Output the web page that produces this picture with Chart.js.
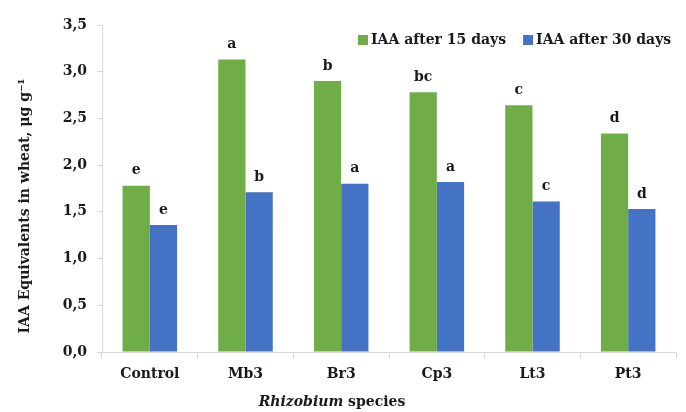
<!DOCTYPE html>
<html>
<head>
<meta charset="utf-8">
<script src="https://cdn.jsdelivr.net/npm/chart.js@4.4.1/dist/chart.umd.min.js"></script>
<style>
  html, body { margin: 0; padding: 0; background: #fff; }
</style>
</head>
<body>
<canvas id="iaa-chart" width="686" height="412"></canvas>
<script>
// Données
const categories = ["Control", "Mb3", "Br3", "Cp3", "Lt3", "Pt3"];
const iaa15 = [1.78, 3.13, 2.90, 2.78, 2.64, 2.34];
const iaa30 = [1.36, 1.71, 1.80, 1.82, 1.61, 1.53];
const letters15 = ["e", "a", "b", "bc", "c", "d"];
const letters30 = ["e", "b", "a", "a", "c", "d"];
const seriesNames = ["IAA after 15 days", "IAA after 30 days"];
const yTicks = [0, 0.5, 1, 1.5, 2, 2.5, 3, 3.5];

const GREEN = "#70ad47";
const BLUE = "#4472c4";
const TEXT = "#1a1a1a";
const FONT = "'DejaVu Serif', serif";

// Lettres au-dessus des barres
const lettersPlugin = {
  id: "letters",
  afterDatasetsDraw(chart) {
    const ctx = chart.ctx;
    const all = [letters15, letters30];
    ctx.save();
    ctx.font = "bold 14px " + FONT;
    ctx.fillStyle = TEXT;
    ctx.textAlign = "center";
    ctx.textBaseline = "middle";
    chart.data.datasets.forEach((ds, i) => {
      chart.getDatasetMeta(i).data.forEach((bar, j) => {
        ctx.fillText(all[i][j], bar.x, bar.y - 15);
      });
    });
    ctx.restore();
  },
};

// Légende + titres des axes
const decorPlugin = {
  id: "decor",
  afterDraw(chart) {
    const ctx = chart.ctx;
    ctx.save();
    ctx.fillStyle = TEXT;
    ctx.font = "bold 14px " + FONT;
    ctx.textBaseline = "middle";
    ctx.textAlign = "left";

    // légende
    let x = 358;
    const y = 40;
    chart.data.datasets.forEach((ds) => {
      ctx.fillStyle = ds.backgroundColor;
      ctx.fillRect(x, y - 5, 10, 10);
      ctx.fillStyle = TEXT;
      ctx.fillText(ds.label, x + 13, y);
      x += 13 + ctx.measureText(ds.label).width + 17;
    });

    // titre axe X : "Rhizobium" en italique
    const it = "Rhizobium";
    const rest = " species";
    ctx.font = "italic bold 14px " + FONT;
    const w1 = ctx.measureText(it).width;
    ctx.font = "bold 14px " + FONT;
    const w2 = ctx.measureText(rest).width;
    let tx = 332 - (w1 + w2) / 2;
    ctx.font = "italic bold 14px " + FONT;
    ctx.fillText(it, tx, 402);
    ctx.font = "bold 14px " + FONT;
    ctx.fillText(rest, tx + w1, 402);

    // titre axe Y
    ctx.translate(25, 206);
    ctx.rotate(-Math.PI / 2);
    ctx.textAlign = "center";
    ctx.fillText("IAA Equivalents in wheat, μg g⁻¹", 0, 0);
    ctx.restore();
  },
};

const ctx = document.getElementById("iaa-chart").getContext("2d");
new Chart(ctx, {
  type: "bar",
  data: {
    labels: categories,
    datasets: [
      { label: seriesNames[0], data: iaa15, backgroundColor: GREEN },
      { label: seriesNames[1], data: iaa30, backgroundColor: BLUE },
    ],
  },
  options: {
    responsive: false,
    animation: false,
    categoryPercentage: 0.57,
    barPercentage: 1.0,
    layout: { padding: { left: 0, right: 10, top: 25, bottom: 0 } },
    plugins: {
      legend: { display: false },
      tooltip: { enabled: false },
    },
    scales: {
      x: {
        grid: {
          display: true,
          drawOnChartArea: false,
          tickLength: 6,
          color: "#d9d9d9",
          offset: true,
        },
        border: { color: "#d9d9d9" },
        ticks: {
          color: TEXT,
          padding: 8,
          font: { family: FONT, size: 14, weight: "bold" },
        },
        afterFit(scale) { scale.height = 60; },
      },
      y: {
        min: 0,
        max: 3.5,
        afterBuildTicks(scale) {
          scale.ticks = yTicks.map((v) => ({ value: v }));
        },
        grid: {
          drawOnChartArea: false,
          tickLength: 5,
          color: "#d9d9d9",
        },
        border: { color: "#d9d9d9" },
        ticks: {
          color: TEXT,
          padding: 10,
          font: { family: FONT, size: 14, weight: "bold" },
          callback: (v) => v.toFixed(1).replace(".", ","),
        },
        afterFit(scale) { scale.width = 102; },
      },
    },
  },
  plugins: [lettersPlugin, decorPlugin],
});
</script>
</body>
</html>
